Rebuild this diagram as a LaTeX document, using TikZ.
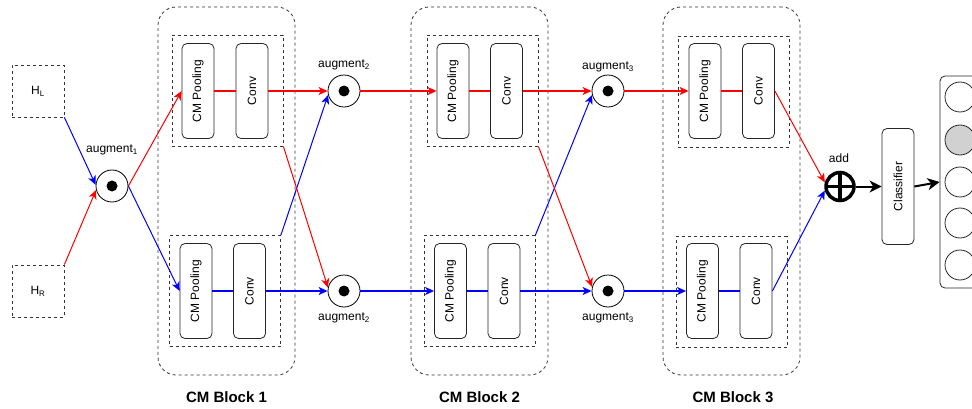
\documentclass[tikz,border=0pt]{standalone}
\usepackage{fontspec}
\setmainfont{Liberation Sans}
\usetikzlibrary{arrows.meta}
\definecolor{lred}{RGB}{255,0,0}
\definecolor{lblue}{RGB}{0,0,255}
\begin{document}
\begin{tikzpicture}[x=1pt,y=-1pt,
 font=\fontsize{12}{14}\selectfont,
 dsh/.style={draw=black!80, dash pattern=on 3pt off 3pt, line width=0.8pt},
 blockbox/.style={dsh, rounded corners=18pt, minimum width=137pt, minimum height=368pt, inner sep=0pt},
 grpbox/.style={dsh, minimum width=111pt, minimum height=111pt, inner sep=0pt},
 fbox/.style={draw=black!85, line width=0.8pt, rounded corners=5pt, minimum width=32pt, minimum height=95pt, inner sep=0pt},
 augm/.style={circle, draw=black, line width=0.8pt, minimum size=32pt, inner sep=0pt,
   path picture={\fill[black] (path picture bounding box.center) circle (5.5pt);}},
 inbox/.style={dsh, minimum width=52pt, minimum height=52pt, inner sep=0pt},
 outc/.style={circle, draw=black!85, line width=0.8pt, minimum size=30pt, inner sep=0pt},
 rl/.style={draw=lred, line width=1pt},
 bl/.style={draw=lblue, line width=1pt},
 hr/.style={line width=1.6pt},
 tip/.style={-{Stealth[length=9pt,width=8pt,inset=2.5pt]}},
 bigtip/.style={line width=2pt, -{Stealth[length=12pt,width=12pt,inset=3.5pt]}},
 lbl/.style={font=\bfseries\fontsize{15}{17}\selectfont}
]
\useasboundingbox (0,0) rectangle (972,409);
\clip (0,0) rectangle (972,409);

% inputs
\node[inbox] (hl) at (38,91) {H\textsubscript{L}};
\node[inbox] (hr) at (38,291) {H\textsubscript{R}};
\node[augm] (aug1) at (112,186) {};
\node at (112,150) {augment\textsubscript{1}};

% block 1
\node[blockbox] (b1) at (226.5,191) {};
\node[grpbox] (g1t) at (227.5,90.5) {};
\node[grpbox] (g1b) at (225,291) {};
\node[fbox] (p1t) at (198,91) {\rotatebox{90}{CM Pooling}};
\node[fbox] (c1t) at (252,91) {\rotatebox{90}{Conv}};
\node[fbox] (p1b) at (196,291) {\rotatebox{90}{CM Pooling}};
\node[fbox] (c1b) at (249.5,291) {\rotatebox{90}{Conv}};
\node[lbl] at (226.5,397) {CM Block 1};

% augment 2
\node[augm] (a2t) at (344,91) {};
\node[augm] (a2b) at (344,291) {};
\node at (344,65) {augment\textsubscript{2}};
\node at (344,318) {augment\textsubscript{2}};

% block 2
\node[blockbox] (b2) at (479.5,191) {};
\node[grpbox] (g2t) at (482.5,90.5) {};
\node[grpbox] (g2b) at (479.5,291) {};
\node[fbox] (p2t) at (453,91) {\rotatebox{90}{CM Pooling}};
\node[fbox] (c2t) at (506.5,91) {\rotatebox{90}{Conv}};
\node[fbox] (p2b) at (450.5,291) {\rotatebox{90}{CM Pooling}};
\node[fbox] (c2b) at (504,291) {\rotatebox{90}{Conv}};
\node[lbl] at (479.5,397) {CM Block 2};

% augment 3
\node[augm] (a3t) at (608,91) {};
\node[augm] (a3b) at (608,291) {};
\node at (608,67) {augment\textsubscript{3}};
\node at (608,318) {augment\textsubscript{3}};

% block 3
\node[blockbox] (b3) at (731.5,191) {};
\node[grpbox] (g3t) at (733.5,91.5) {};
\node[grpbox] (g3b) at (731.5,292) {};
\node[fbox] (p3t) at (705,91) {\rotatebox{90}{CM Pooling}};
\node[fbox] (c3t) at (758.5,91) {\rotatebox{90}{Conv}};
\node[fbox] (p3b) at (702.5,291) {\rotatebox{90}{CM Pooling}};
\node[fbox] (c3b) at (756,291) {\rotatebox{90}{Conv}};
\node[lbl] at (733,397) {CM Block 3};

% add, classifier, output
\node[circle, draw=black, line width=3.5pt, minimum size=28pt, inner sep=0pt] (add) at (840,186.5) {};
\draw[line width=3.5pt] (add.center) ++(0,-14) -- ++(0,28);
\draw[line width=3.5pt] (add.center) ++(-14,0) -- ++(28,0);
\node at (839,158) {add};
\node[draw=black!85, line width=0.8pt, rounded corners=5pt, minimum width=32pt, minimum height=116pt, inner sep=0pt] (cls) at (898,186.5) {\rotatebox{90}{Classifier}};
\node[draw=black!85, line width=0.8pt, rounded corners=5pt, minimum width=70pt, minimum height=212pt, inner sep=0pt] (out) at (975,182) {};
\node[outc] (o1) at (960,97) {};
\node[outc, fill=black!18] (o2) at (960,140) {};
\node[outc] (o3) at (960,182) {};
\node[outc] (o4) at (960,223) {};
\node[outc] (o5) at (960,265) {};

% connectors
\draw[bl,tip] (hl.south east) -- (aug1.176);
\draw[rl,tip] (hr.north east) -- (aug1.194);
\draw[rl,tip] (aug1.east) -- (p1t.west);
\draw[bl,tip] (aug1.east) -- (p1b.west);
\draw[rl,hr] (p1t.east) -- (c1t.west);
\draw[bl,hr] (p1b.east) -- (c1b.west);
\draw[rl,hr,tip] (c1t.east) -- (a2t.west);
\draw[bl,hr,tip] (c1b.east) -- (a2b.west);
\draw[bl,tip] (g1b.north east) -- (a2t.194);
\draw[rl,tip] (g1t.south east) -- (a2b.168);
\draw[rl,hr,tip] (a2t.east) -- (p2t.west);
\draw[bl,hr,tip] (a2b.east) -- (p2b.west);
\draw[rl,hr] (p2t.east) -- (c2t.west);
\draw[bl,hr] (p2b.east) -- (c2b.west);
\draw[rl,hr,tip] (c2t.east) -- (a3t.west);
\draw[bl,hr,tip] (c2b.east) -- (a3b.west);
\draw[bl,tip] (g2b.north east) -- (a3t.194);
\draw[rl,tip] (g2t.south east) -- (a3b.166);
\draw[rl,hr,tip] (a3t.east) -- (p3t.west);
\draw[bl,hr,tip] (a3b.east) -- (p3b.west);
\draw[rl,hr] (p3t.east) -- (c3t.west);
\draw[bl,hr] (p3b.east) -- (c3b.west);
\draw[rl,tip] (c3t.east) -- (add.165);
\draw[bl,tip] (c3b.east) -- (add.195);
\draw[bigtip] (add.east) -- (cls.west);
\draw[bigtip] (cls.east) -- (out.west);
\end{tikzpicture}
\end{document}
